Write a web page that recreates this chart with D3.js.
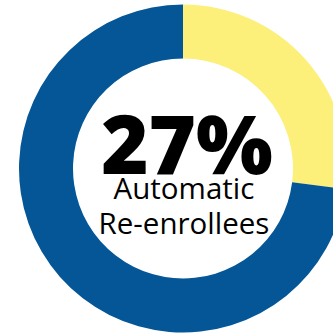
<!DOCTYPE html>
<html>
<head>
<meta charset="utf-8">
<script src="https://cdn.jsdelivr.net/npm/d3@7"></script>
<style>
  html, body { margin: 0; padding: 0; background: #fff; overflow: hidden; }
  svg { display: block; }
</style>
</head>
<body>
<svg id="chart" width="333" height="334"></svg>
<script>
// Share of enrollees by type
const categories = ["Automatic Re-enrollees", "Other"];
const values = [27, 73];
const colors = ["#fcef7a", "#045697"];
const centerLabel = ["Automatic", "Re-enrollees"];

const svg = d3.select("#chart");
const cx = 183, cy = 168.5;
const outerR = 164, innerR = 110;

const pie = d3.pie().sort(null).value(d => d)(values);
const arc = d3.arc().innerRadius(innerR).outerRadius(outerR);
const color = d3.scaleOrdinal().domain(categories).range(colors);

const g = svg.append("g").attr("transform", `translate(${cx},${cy})`);

g.selectAll("path")
  .data(pie)
  .join("path")
  .attr("d", arc)
  .attr("fill", (d, i) => color(categories[i]));

// Headline value in the hole
g.append("text")
  .attr("x", 4)
  .attr("y", 5)
  .attr("text-anchor", "middle")
  .attr("font-family", "'Open Sans', sans-serif")
  .attr("font-weight", 800)
  .attr("font-size", 81)
  .attr("fill", "#000")
  .text(d3.format(".0%")(values[0] / d3.sum(values)));

g.selectAll("text.sub")
  .data(centerLabel)
  .join("text")
  .attr("class", "sub")
  .attr("x", 1)
  .attr("y", (d, i) => 30.5 + i * 35)
  .attr("text-anchor", "middle")
  .attr("font-family", "'Open Sans', sans-serif")
  .attr("font-size", 29.5)
  .attr("fill", "#000")
  .text(d => d);
</script>
</body>
</html>
